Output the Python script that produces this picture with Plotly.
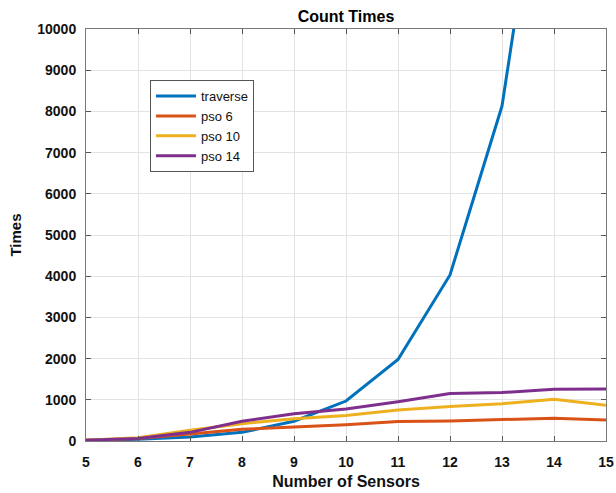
import plotly.graph_objects as go

sensors = [5, 6, 7, 8, 9, 10, 11, 12, 13, 14, 15]
traverse = [20, 40, 100, 210, 480, 970, 1980, 4030, 8130, 16400, 32700]
pso6 = [20, 60, 170, 285, 340, 395, 475, 488, 520, 553, 512]
pso10 = [20, 80, 260, 420, 540, 620, 750, 837, 905, 1016, 870]
pso14 = [20, 60, 210, 480, 660, 776, 950, 1150, 1175, 1258, 1260]
ytick_vals = [0, 1000, 2000, 3000, 4000, 5000, 6000, 7000, 8000, 9000, 10000]
ytick_text = ["0", "1000", "2000", "3000", "4000", "5000", "6000", "7000", "8000", "9000", "10000"]

series = [
    ("traverse", traverse, "#0072BD"),
    ("pso 6", pso6, "#D95319"),
    ("pso 10", pso10, "#EDB120"),
    ("pso 14", pso14, "#7E2F8E"),
]

fig = go.Figure()
for name, vals, col in series:
    fig.add_trace(go.Scatter(x=sensors, y=vals, mode="lines", name=name,
                             line=dict(color=col, width=3)))

FAM = "Liberation Sans, Arial, sans-serif"
tick_font = dict(family=FAM, size=14, color="#111111", weight="bold")
title_font = dict(family=FAM, size=16, color="#111111", weight="bold")

axis_common = dict(
    showline=True, linecolor="#777777", linewidth=1, mirror="allticks",
    ticks="inside", ticklen=5, tickcolor="#555555",
    showgrid=True, gridcolor="#e3e3e3", gridwidth=1, zeroline=False,
    tickfont=tick_font,
)

fig.update_layout(
    width=616, height=493,
    margin=dict(l=86, r=10, t=29, b=52),
    paper_bgcolor="white", plot_bgcolor="white",
    title=dict(text="Count Times", x=(86 + 606) / 2 / 616, xanchor="center",
               y=1 - 16 / 493, yanchor="middle",
               font=dict(family=FAM, size=16, color="#000000", weight="bold")),
    xaxis=dict(range=[5, 15], tickvals=sensors, ticklabelstandoff=8,
               title=dict(text="Number of Sensors", font=title_font, standoff=7),
               automargin=False, **axis_common),
    yaxis=dict(range=[0, 10000], tickvals=ytick_vals, ticktext=ytick_text, ticklabelstandoff=6,
               title=dict(text="Times", font=dict(family=FAM, size=15, color="#111111", weight="bold"), standoff=12),
               automargin=False, **axis_common),
    legend=dict(x=0.123, y=0.876, xanchor="left", yanchor="top",
                bgcolor="white", bordercolor="#555555", borderwidth=1,
                font=dict(family=FAM, size=13, color="#111111"),
                tracegroupgap=0, itemwidth=40),
    showlegend=True,
)

fig.write_html("out.html")
